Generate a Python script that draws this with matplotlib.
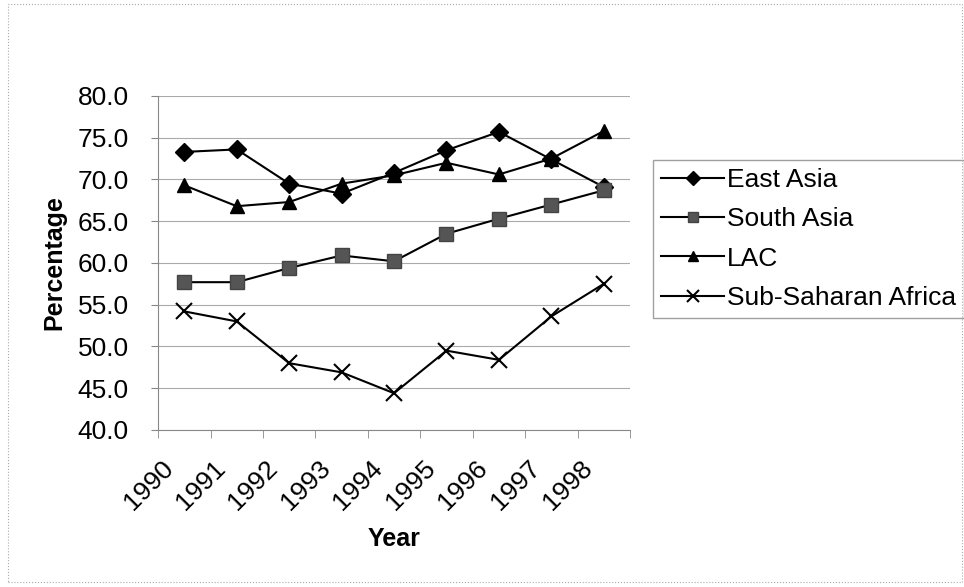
import matplotlib.pyplot as plt
import numpy as np
from matplotlib.patches import Rectangle
from matplotlib.transforms import ScaledTranslation

plt.rcParams['font.family'] = ['Liberation Sans', 'DejaVu Sans']

years = ['1990', '1991', '1992', '1993', '1994', '1995', '1996', '1997', '1998']
east_asia = [73.3, 73.6, 69.5, 68.3, 70.8, 73.5, 75.7, 72.4, 69.1]
south_asia = [57.7, 57.7, 59.4, 60.9, 60.2, 63.5, 65.3, 67.0, 68.7]
lac = [69.3, 66.8, 67.3, 69.5, 70.5, 72.0, 70.6, 72.5, 75.8]
ssa = [54.2, 53.0, 48.0, 46.9, 44.4, 49.5, 48.4, 53.6, 57.5]

fig = plt.figure(figsize=(9.64, 5.87), dpi=100)
ax = fig.add_axes([0.164, 0.2675, 0.4895, 0.569])

x = np.arange(len(years))
ax.plot(x, east_asia, color='black', lw=1.5, marker='D', ms=9, label='East Asia')
ax.plot(x, south_asia, color='black', lw=1.5, marker='s', ms=10, mfc='#555555', mec='#444444',
        label='South Asia')
ax.plot(x, lac, color='black', lw=1.5, marker='^', ms=10, label='LAC')
ax.plot(x, ssa, color='black', lw=1.5, marker='x', ms=12, mew=1.5, label='Sub-Saharan Africa')

ax.set_xlim(-0.5, len(years) - 0.5)
ax.set_ylim(40, 80)
ax.set_yticks(np.arange(40, 81, 5))
ax.set_yticklabels([f'{v:.1f}' for v in np.arange(40, 81, 5)], fontsize=19)
ax.set_xticks(x)
ax.set_xticklabels(years, rotation=45, fontsize=19, ha='right', va='center',
                   rotation_mode='anchor')
ax.tick_params(axis='x', length=0, pad=25)
# nudge rotated year labels a little left, as in the original
shift = ScaledTranslation(-0.15, 0, fig.dpi_scale_trans)
for lab in ax.get_xticklabels():
    lab.set_transform(lab.get_transform() + shift)
ax.set_xticks(np.arange(-0.5, len(years), 1), minor=True)
ax.tick_params(axis='x', which='minor', length=6, color='#888888')
ax.tick_params(axis='y', length=5, color='#888888', pad=16)
ax.grid(axis='y', color='#aaaaaa', lw=0.8)
ax.set_axisbelow(True)
for s in ['top', 'right']:
    ax.spines[s].set_visible(False)
for s in ['left', 'bottom']:
    ax.spines[s].set_color('#888888')

ax.set_ylabel('Percentage', fontsize=18, fontweight='bold', labelpad=8)
ax.set_xlabel('Year', fontsize=18, fontweight='bold', labelpad=9)

ax.legend(loc='upper left', bbox_to_anchor=(1.049, 0.808), frameon=True, fancybox=False,
          edgecolor='#888888', fontsize=19, handlelength=2.4, handletextpad=0.1,
          labelspacing=0.58, borderaxespad=0, borderpad=0.3, markerscale=0.75)

fig.patches.append(Rectangle((0.008, 0.008), 0.99, 0.985, transform=fig.transFigure,
                             fill=False, edgecolor='#aaaaaa', lw=0.8, ls=':'))

fig.savefig('out.png', dpi=100)
